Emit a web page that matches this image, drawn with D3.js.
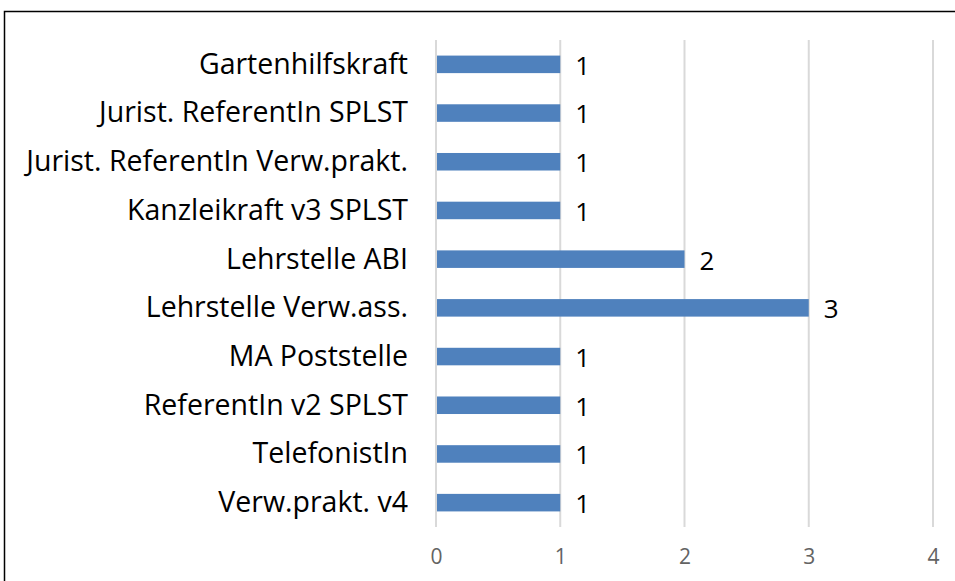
<!DOCTYPE html>
<meta charset="utf-8">
<style>
body { margin: 0; background: #fff; }
svg { display: block; font-family: "Open Sans", "Liberation Sans", sans-serif; }
.grid line { stroke: #d9d9d9; stroke-width: 2; }
.cat { font-size: 28.5px; fill: #000; }
.val { font-size: 26px; fill: #000; }
</style>
<div class="chart"></div>
<script src="https://cdn.jsdelivr.net/npm/d3@7"></script>
<script>

var categories = [
  "Gartenhilfskraft",
  "Jurist. ReferentIn SPLST",
  "Jurist. ReferentIn Verw.prakt.",
  "Kanzleikraft v3 SPLST",
  "Lehrstelle ABI",
  "Lehrstelle Verw.ass.",
  "MA Poststelle",
  "ReferentIn v2 SPLST",
  "TelefonistIn",
  "Verw.prakt. v4"];
var counts = [1, 1, 1, 1, 2, 3, 1, 1, 1, 1];
var xTicks = [0, 1, 2, 3, 4];

var width = 955, height = 581;

var svg = d3.select(".chart")
    .append("svg")
    .attr("width", width)
    .attr("height", height);

// chart frame, runs off the right and bottom edges
svg.append("rect")
    .attr("x", 4.5)
    .attr("y", 11.5)
    .attr("width", 960)
    .attr("height", 600)
    .attr("fill", "none")
    .attr("stroke", "#000")
    .attr("stroke-width", 1.5);

var x = d3.scaleLinear().domain([0, 4]).range([436, 933]);
var y = d3.scaleBand().domain(categories).range([40, 527]).paddingInner(0.64).paddingOuter(0.32);

svg.append("g")
    .attr("class", "grid")
    .selectAll("line")
    .data(xTicks)
    .enter()
    .append("line")
    .attr("x1", function(d) { return x(d); })
    .attr("x2", function(d) { return x(d); })
    .attr("y1", 40)
    .attr("y2", 527);

svg.append("g")
    .selectAll("rect")
    .data(counts)
    .enter()
    .append("rect")
    .attr("x", x(0) + 1)
    .attr("y", function(d, i) { return y(categories[i]); })
    .attr("width", function(d) { return x(d) - x(0) - 1; })
    .attr("height", y.bandwidth())
    .attr("fill", "#4f81bd");

svg.append("g")
    .selectAll("text")
    .data(counts)
    .enter()
    .append("text")
    .attr("class", "val")
    .attr("x", function(d) { return x(d) + 15; })
    .attr("y", function(d, i) { return y(categories[i]) + y.bandwidth() / 2; })
    .attr("dy", "0.40em")
    .text(function(d) { return d; });

svg.append("g")
    .selectAll("text")
    .data(categories)
    .enter()
    .append("text")
    .attr("class", "cat")
    .attr("x", 408)
    .attr("y", function(d) { return y(d) + y.bandwidth() / 2; })
    .attr("dy", "0.33em")
    .style("text-anchor", "end")
    .text(function(d) { return d; });

var xAxis = d3.axisBottom(x).tickValues(xTicks).tickFormat(d3.format("d")).tickSize(0).tickPadding(0);
svg.append("g")
    .attr("transform", "translate(0,549)")
    .call(xAxis)
    .attr("font-size", 21)
    .attr("font-family", "'Open Sans', sans-serif")
    .call(function(g) { g.select(".domain").remove(); })
    .call(function(g) { g.selectAll(".tick text").attr("fill", "#636363"); });

</script>
